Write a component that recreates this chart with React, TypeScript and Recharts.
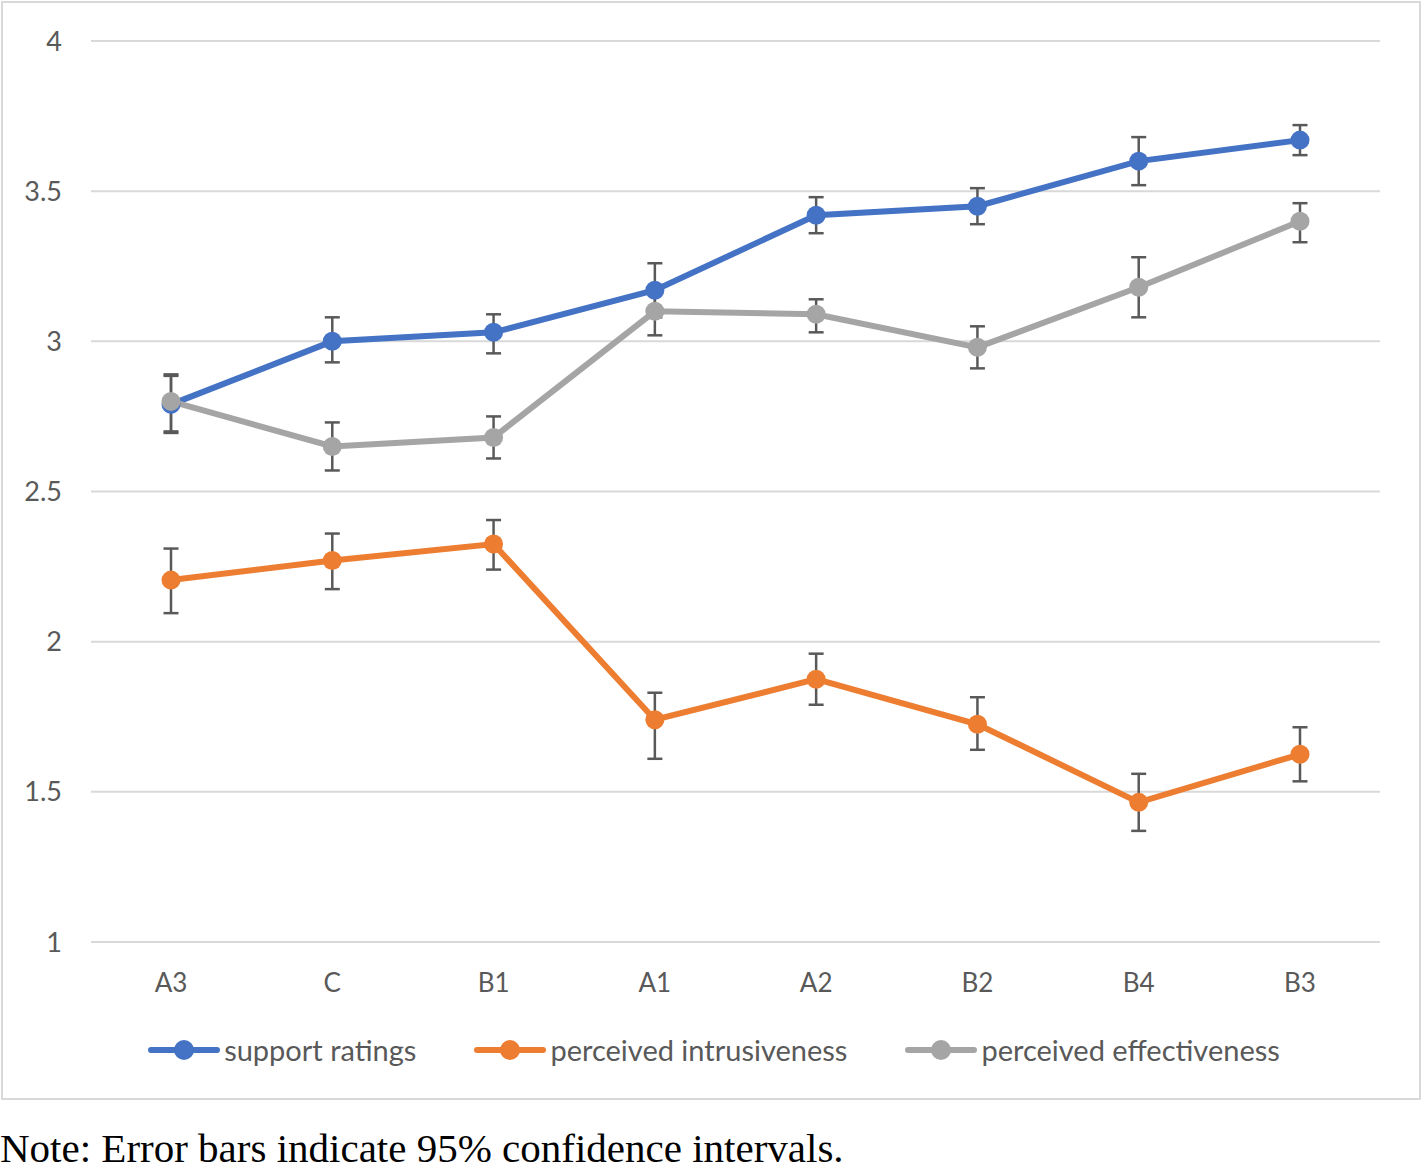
import React from "react"
import { LineChart, Line, XAxis, YAxis, CartesianGrid, ErrorBar } from "recharts"

// conditions in display order
const categories = ["A3", "C", "B1", "A1", "A2", "B2", "B4", "B3"]

const supportRatings = [2.79, 3.0, 3.03, 3.17, 3.42, 3.45, 3.6, 3.67]
const supportErr: [number, number][] = [
  [0.095, 0.095], [0.07, 0.08], [0.07, 0.06], [0.09, 0.09],
  [0.06, 0.06], [0.06, 0.06], [0.08, 0.08], [0.05, 0.05],
]

const intrusiveness = [2.205, 2.27, 2.325, 1.74, 1.875, 1.725, 1.465, 1.625]
const intrusivenessErr: [number, number][] = [
  [0.11, 0.105], [0.095, 0.09], [0.085, 0.08], [0.13, 0.09],
  [0.085, 0.085], [0.085, 0.09], [0.095, 0.095], [0.09, 0.09],
]

const effectiveness = [2.8, 2.65, 2.68, 3.1, 3.09, 2.98, 3.18, 3.4]
const effectivenessErr: [number, number][] = [
  [0.1, 0.09], [0.08, 0.08], [0.07, 0.07], [0.08, 0.08],
  [0.06, 0.05], [0.07, 0.07], [0.1, 0.1], [0.07, 0.06],
]

const yTicks = [1, 1.5, 2, 2.5, 3, 3.5, 4]

const series = [
  { key: "support", name: "support ratings", color: "#4472C4" },
  { key: "intrusive", name: "perceived intrusiveness", color: "#ED7D31" },
  { key: "effective", name: "perceived effectiveness", color: "#A5A5A5" },
]

const data = categories.map((c, i) => ({
  name: c,
  support: supportRatings[i],
  supportErr: supportErr[i],
  intrusive: intrusiveness[i],
  intrusiveErr: intrusivenessErr[i],
  effective: effectiveness[i],
  effectiveErr: effectivenessErr[i],
}))

const FONT = "Lato, 'Open Sans', sans-serif"
const TEXT = "#595959"

function LegendRow() {
  return (
    <div
      style={{
        position: "absolute",
        top: 1032,
        left: 0,
        width: 1428,
        display: "flex",
        justifyContent: "center",
        gap: 58,
        fontFamily: FONT,
        fontSize: 29,
        lineHeight: "36px",
        color: TEXT,
      }}
    >
      {series.map((s) => (
        <div key={s.key} style={{ display: "flex", alignItems: "center" }}>
          <svg width={72} height={24} style={{ marginRight: 4 }}>
            <line x1={3} y1={12} x2={69} y2={12} stroke={s.color} strokeWidth={6} strokeLinecap="round" />
            <circle cx={36} cy={12} r={10} fill={s.color} />
          </svg>
          <span>{s.name}</span>
        </div>
      ))}
    </div>
  )
}

export default function App() {
  return (
    <div style={{ position: "absolute", left: 0, top: 0, width: 1422, height: 1164, background: "#fff", overflow: "hidden" }}>
      <div
        style={{
          position: "absolute",
          left: 1,
          top: 1,
          width: 1416,
          height: 1095,
          border: "2px solid #d9d9d9",
        }}
      />
      <div style={{ position: "absolute", left: 0, top: 0 }}>
        <LineChart width={1420} height={1000} data={data} margin={{ top: 41, right: 40, left: 0, bottom: 0 }}>
          <CartesianGrid vertical={false} stroke="#d9d9d9" strokeWidth={2} />
          <XAxis
            dataKey="name"
            axisLine={false}
            tickLine={false}
            height={58}
            padding={{ left: 80, right: 80 }}
            tickMargin={26}
            tick={{ fill: TEXT, fontSize: 26, fontFamily: FONT }}
          />
          <YAxis
            domain={[1, 4]}
            ticks={yTicks}
            axisLine={false}
            tickLine={false}
            width={91}
            tickMargin={23}
            tick={{ fill: TEXT, fontSize: 27, fontFamily: FONT }}
          />
          {series.map((s) => (
            <Line
              key={s.key}
              dataKey={s.key}
              name={s.name}
              stroke={s.color}
              strokeWidth={6}
              dot={{ r: 9.5, fill: s.color, stroke: s.color, strokeWidth: 0 }}
              activeDot={false}
              isAnimationActive={false}
            >
              <ErrorBar dataKey={`${s.key}Err`} width={7.5} stroke="#595959" strokeWidth={2.5} />
            </Line>
          ))}
        </LineChart>
      </div>
      <LegendRow />
      <div
        style={{
          position: "absolute",
          left: 0,
          top: 1133,
          fontFamily: "'Liberation Serif', 'Times New Roman', serif",
          fontSize: 41,
          lineHeight: "30px",
          color: "#000",
          whiteSpace: "nowrap",
        }}
      >
        Note: Error bars indicate 95% confidence intervals.
      </div>
    </div>
  )
}
